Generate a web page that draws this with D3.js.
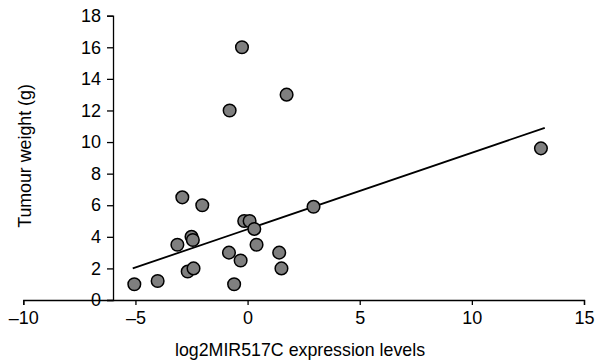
<!DOCTYPE html>
<html>
<head>
<meta charset="utf-8">
<script src="https://cdn.jsdelivr.net/npm/d3@7"></script>
<style>
  html, body { margin: 0; padding: 0; background: #fff; }
  svg { display: block; }
  text { font-family: "Liberation Sans", Arial, sans-serif; fill: #000; }
</style>
</head>
<body>
<svg id="chart" width="595" height="364"></svg>
<script>
// Data
const expression = [-5.05, -4.01, -3.13, -2.91, -2.67, -2.50, -2.44, -2.41, -2.02, -0.80, -0.83, -0.60, -0.31, -0.25, -0.15, 0.09, 0.30, 0.40, 1.41, 1.51, 1.74, 2.94, 13.08];
const tumourWeight = [1.0, 1.2, 3.5, 6.5, 1.8, 4.0, 3.8, 2.0, 6.0, 12.0, 3.0, 1.0, 2.5, 16.0, 5.0, 5.0, 4.5, 3.5, 3.0, 2.0, 13.0, 5.9, 9.6];
const trendX = [-5.12, 13.25];
const trendY = [2.0, 10.9];
const xTicks = [-10, -5, 0, 5, 10, 15];
const yTicks = [0, 2, 4, 6, 8, 10, 12, 14, 16, 18];
const xTitle = "log2MIR517C expression levels";
const yTitle = "Tumour weight (g)";
const yAxisCrossAt = -6;

const svg = d3.select("#chart");
const x = d3.scaleLinear().domain([-10, 15]).range([23.3, 584]);
const y = d3.scaleLinear().domain([0, 18]).range([300, 15.7]);

const fmt = d => (d < 0 ? "\u2013" + Math.abs(d) : String(d));

// X axis
const xAxis = svg.append("g")
  .attr("transform", `translate(0,${y(0)})`)
  .call(d3.axisBottom(x).tickValues(xTicks).tickFormat(fmt).tickSizeOuter(0).tickSize(5).tickPadding(6));
xAxis.select(".domain").attr("stroke", "#000").attr("stroke-width", 1.3);
xAxis.selectAll(".tick line").attr("stroke", "#000").attr("stroke-width", 1.3);
xAxis.selectAll(".tick text").attr("font-size", 18).attr("font-family", "Liberation Sans, Arial, sans-serif").attr("fill", "#000");

// Y axis
const yAxis = svg.append("g")
  .attr("transform", `translate(${x(yAxisCrossAt)},0)`)
  .call(d3.axisLeft(y).tickValues(yTicks).tickFormat(fmt).tickSizeOuter(0).tickSize(6).tickPadding(6));
yAxis.select(".domain").attr("stroke", "#000").attr("stroke-width", 1.3);
yAxis.selectAll(".tick line").attr("stroke", "#000").attr("stroke-width", 1.3);
yAxis.selectAll(".tick text").attr("font-size", 18).attr("font-family", "Liberation Sans, Arial, sans-serif").attr("fill", "#000");

// Trend line
svg.append("line")
  .attr("x1", x(trendX[0])).attr("y1", y(trendY[0]))
  .attr("x2", x(trendX[1])).attr("y2", y(trendY[1]))
  .attr("stroke", "#000").attr("stroke-width", 1.8);

// Points
const pts = expression.map((v, i) => ({ x: v, y: tumourWeight[i] }));
svg.append("g").selectAll("circle").data(pts).join("circle")
  .attr("cx", d => x(d.x)).attr("cy", d => y(d.y)).attr("r", 6.3)
  .attr("fill", "#7f7f7f").attr("stroke", "#000").attr("stroke-width", 1.5);

// Titles
svg.append("text")
  .attr("x", 300).attr("y", 356)
  .attr("text-anchor", "middle").attr("font-size", 17.8)
  .text(xTitle);

svg.append("text")
  .attr("transform", `translate(31,156) rotate(-90)`)
  .attr("text-anchor", "middle").attr("font-size", 17.8)
  .text(yTitle);
</script>
</body>
</html>
